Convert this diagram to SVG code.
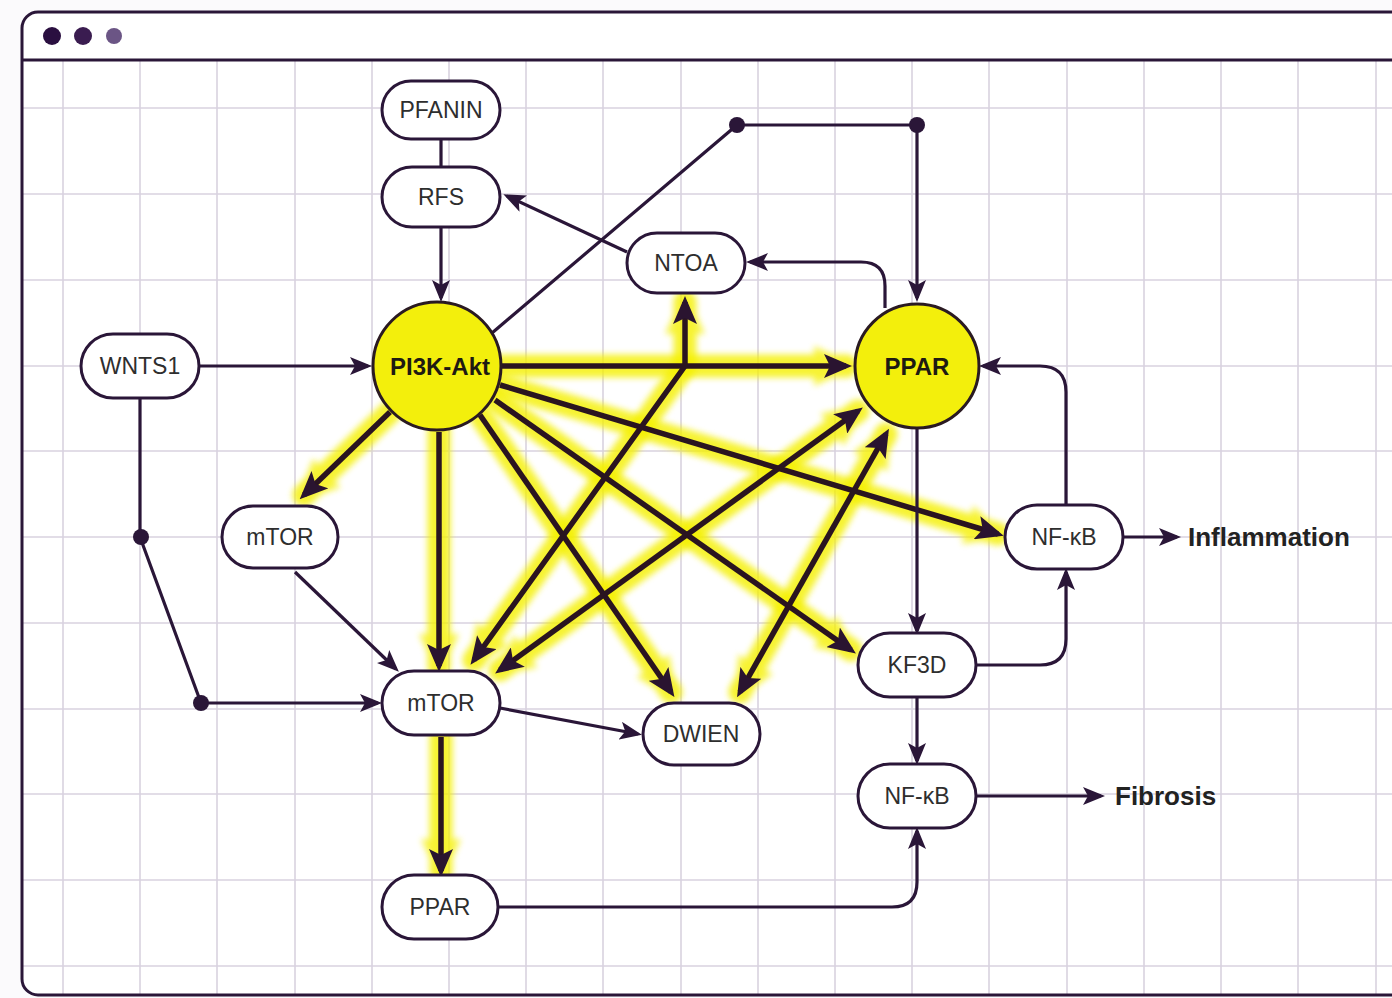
<svg xmlns="http://www.w3.org/2000/svg" width="1392" height="998" viewBox="0 0 1392 998">
<defs>
<style>
.grid line{stroke:#d9d2df;stroke-width:1.6}
.pill{fill:#fff;stroke:#2a1638;stroke-width:3}
.hub{fill:#f3ef0c;stroke:#2a1a22;stroke-width:3}
.lbl{font-family:"Liberation Sans",Arial,sans-serif;font-size:23px;fill:#2e2e2e;text-anchor:middle;dominant-baseline:central}
.hubl{font-family:"Liberation Sans",Arial,sans-serif;font-size:24px;font-weight:bold;fill:#1e1a12;text-anchor:middle;dominant-baseline:central}
.out{font-family:"Liberation Sans",Arial,sans-serif;font-size:26px;font-weight:bold;fill:#222;dominant-baseline:central}
.thin{fill:none;stroke:#2a1638;stroke-width:3.2;stroke-linejoin:round}
.glow{fill:none;stroke:#f4f000;stroke-width:23;stroke-linecap:round;stroke-linejoin:round;opacity:.8;filter:url(#blur)}
.thick{fill:none;stroke:#2a1420;stroke-width:5.5;stroke-linejoin:round}
.dot{fill:#2a1638}
</style>
<filter id="blur" filterUnits="userSpaceOnUse" x="0" y="0" width="1392" height="998"><feGaussianBlur stdDeviation="3"/></filter>
<marker id="a" viewBox="0 0 22 18" refX="18" refY="9" markerWidth="22" markerHeight="18" markerUnits="userSpaceOnUse" orient="auto-start-reverse"><path d="M0,0 L22,9 L0,18 L5,9 z" fill="#2a1638"/></marker>
<marker id="A" viewBox="0 0 28 24" refX="22" refY="12" markerWidth="28" markerHeight="24" markerUnits="userSpaceOnUse" orient="auto-start-reverse"><path d="M0,0 L28,12 L0,24 L6,12 z" fill="#2a1430"/></marker>
<marker id="G" viewBox="0 0 44 40" refX="32" refY="20" markerWidth="44" markerHeight="40" markerUnits="userSpaceOnUse" orient="auto-start-reverse"><path d="M0,0 L44,20 L0,40 z" fill="#f4f000" opacity=".85"/></marker>
</defs>
<rect width="1392" height="998" fill="#fbfafc"/>
<rect x="22" y="12" width="1400" height="983" rx="16" fill="#fff"/>
<g class="grid">
<line x1="63" y1="60" x2="63" y2="995"/><line x1="140" y1="60" x2="140" y2="995"/><line x1="217" y1="60" x2="217" y2="995"/><line x1="295" y1="60" x2="295" y2="995"/><line x1="372" y1="60" x2="372" y2="995"/><line x1="449" y1="60" x2="449" y2="995"/><line x1="526" y1="60" x2="526" y2="995"/><line x1="603" y1="60" x2="603" y2="995"/><line x1="681" y1="60" x2="681" y2="995"/><line x1="758" y1="60" x2="758" y2="995"/><line x1="835" y1="60" x2="835" y2="995"/><line x1="912" y1="60" x2="912" y2="995"/><line x1="989" y1="60" x2="989" y2="995"/><line x1="1067" y1="60" x2="1067" y2="995"/><line x1="1144" y1="60" x2="1144" y2="995"/><line x1="1221" y1="60" x2="1221" y2="995"/><line x1="1298" y1="60" x2="1298" y2="995"/><line x1="1376" y1="60" x2="1376" y2="995"/>
<line x1="22" y1="108" x2="1392" y2="108"/><line x1="22" y1="194" x2="1392" y2="194"/><line x1="22" y1="280" x2="1392" y2="280"/><line x1="22" y1="366" x2="1392" y2="366"/><line x1="22" y1="451" x2="1392" y2="451"/><line x1="22" y1="537" x2="1392" y2="537"/><line x1="22" y1="623" x2="1392" y2="623"/><line x1="22" y1="709" x2="1392" y2="709"/><line x1="22" y1="794" x2="1392" y2="794"/><line x1="22" y1="880" x2="1392" y2="880"/><line x1="22" y1="966" x2="1392" y2="966"/>
</g>
<g id="frame">
<rect x="22" y="12" width="1400" height="983" rx="16" fill="none" stroke="#2a1638" stroke-width="3"/>
<line x1="22" y1="60" x2="1392" y2="60" stroke="#2a1638" stroke-width="3"/>
<circle cx="52" cy="36" r="9" fill="#2a0f40"/>
<circle cx="83" cy="36" r="9" fill="#3a1c50"/>
<circle cx="114" cy="36" r="8" fill="#6b5585"/>
</g>
<g id="connectors">
<g id="glows">
<path class="glow" d="M501 366 L846 366" marker-end="url(#G)"/>
<path class="glow" d="M390 412 L304 495" marker-end="url(#G)"/>
<path class="glow" d="M439 430 L439 666" marker-end="url(#G)"/>
<path class="glow" d="M480 415 L671 692" marker-end="url(#G)"/>
<path class="glow" d="M495 400 L851 650" marker-end="url(#G)"/>
<path class="glow" d="M500 385 L998 534" marker-end="url(#G)"/>
<path class="glow" d="M685 302 L685 366 L474 660" marker-start="url(#G)" marker-end="url(#G)"/>
<path class="glow" d="M858 411 L500 670" marker-start="url(#G)" marker-end="url(#G)"/>
<path class="glow" d="M886 434 L740 692" marker-start="url(#G)" marker-end="url(#G)"/>
<path class="glow" d="M441 737 L441 871" marker-end="url(#G)"/>
</g>
<g id="thick">
<path class="thick" d="M501 366 L846 366" marker-end="url(#A)"/>
<path class="thick" d="M390 412 L304 495" marker-end="url(#A)"/>
<path class="thick" d="M439 432 L439 666" marker-end="url(#A)"/>
<path class="thick" d="M480 415 L671 692" marker-end="url(#A)"/>
<path class="thick" d="M495 400 L851 650" marker-end="url(#A)"/>
<path class="thick" d="M500 385 L998 534" marker-end="url(#A)"/>
<path class="thick" d="M685 302 L685 366 L474 660" marker-start="url(#A)" marker-end="url(#A)"/>
<path class="thick" d="M858 411 L500 670" marker-start="url(#A)" marker-end="url(#A)"/>
<path class="thick" d="M886 434 L740 692" marker-start="url(#A)" marker-end="url(#A)"/>
<path class="thick" d="M441 737 L441 871" marker-end="url(#A)"/>
</g>
<g id="thin">
<path class="thin" d="M441 139 L441 168"/>
<path class="thin" d="M441 227 L441 298" marker-end="url(#a)"/>
<path class="thin" d="M627 252 L507 196" marker-end="url(#a)"/>
<path class="thin" d="M492 333 L737 125 L917 125 L917 298" marker-end="url(#a)"/>
<path class="thin" d="M885 308 L885 286 Q885 262 861 262 L750 262" marker-end="url(#a)"/>
<path class="thin" d="M198 366 L368 366" marker-end="url(#a)"/>
<path class="thin" d="M140 398 L140 537 L201 703 L378 703" marker-end="url(#a)"/>
<path class="thin" d="M295 572 L396 669" marker-end="url(#a)"/>
<path class="thin" d="M500 708 L638 734" marker-end="url(#a)"/>
<path class="thin" d="M917 428 L917 631" marker-end="url(#a)"/>
<path class="thin" d="M977 665 L1040 665 Q1066 665 1066 639 L1066 572" marker-end="url(#a)"/>
<path class="thin" d="M1066 505 L1066 392 Q1066 366 1040 366 L983 366" marker-end="url(#a)"/>
<path class="thin" d="M1123 537 L1177 537" marker-end="url(#a)"/>
<path class="thin" d="M917 697 L917 761" marker-end="url(#a)"/>
<path class="thin" d="M977 796 L1101 796" marker-end="url(#a)"/>
<path class="thin" d="M498 907 L892 907 Q917 907 917 882 L917 831" marker-end="url(#a)"/>
<circle class="dot" cx="737" cy="125" r="8"/>
<circle class="dot" cx="917" cy="125" r="8"/>
<circle class="dot" cx="141" cy="537" r="8"/>
<circle class="dot" cx="201" cy="703" r="8"/>
</g>
</g>
<g id="n-pfanin"><rect class="pill" x="382" y="81" width="118" height="58" rx="29"/><text class="lbl" x="441" y="110">PFANIN</text></g>
<g id="n-rfs"><rect class="pill" x="382" y="167" width="118" height="60" rx="30"/><text class="lbl" x="441" y="197">RFS</text></g>
<g id="n-ntoa"><rect class="pill" x="627" y="233" width="118" height="60" rx="30"/><text class="lbl" x="686" y="263">NTOA</text></g>
<g id="n-wnts1"><rect class="pill" x="81" y="334" width="118" height="64" rx="32"/><text class="lbl" x="140" y="366">WNTS1</text></g>
<g id="n-pi3k"><circle class="hub" cx="437" cy="366" r="64"/><text class="hubl" x="440" y="366">PI3K-Akt</text></g>
<g id="n-ppar"><circle class="hub" cx="917" cy="366" r="62"/><text class="hubl" x="917" y="366">PPAR</text></g>
<g id="n-mtor1"><rect class="pill" x="222" y="506" width="116" height="62" rx="31"/><text class="lbl" x="280" y="537">mTOR</text></g>
<g id="n-nfkb1"><rect class="pill" x="1005" y="505" width="118" height="64" rx="32"/><text class="lbl" x="1064" y="537">NF-κB</text></g>
<g id="n-inflammation"><text class="out" x="1188" y="537">Inflammation</text></g>
<g id="n-kf3d"><rect class="pill" x="858" y="633" width="118" height="64" rx="32"/><text class="lbl" x="917" y="665">KF3D</text></g>
<g id="n-mtor2"><rect class="pill" x="382" y="671" width="118" height="64" rx="32"/><text class="lbl" x="441" y="703">mTOR</text></g>
<g id="n-dwien"><rect class="pill" x="643" y="703" width="117" height="62" rx="31"/><text class="lbl" x="701" y="734">DWIEN</text></g>
<g id="n-nfkb2"><rect class="pill" x="858" y="764" width="118" height="64" rx="32"/><text class="lbl" x="917" y="796">NF-κB</text></g>
<g id="n-fibrosis"><text class="out" x="1115" y="796">Fibrosis</text></g>
<g id="n-ppar2"><rect class="pill" x="382" y="875" width="116" height="64" rx="32"/><text class="lbl" x="440" y="907">PPAR</text></g>
</svg>
